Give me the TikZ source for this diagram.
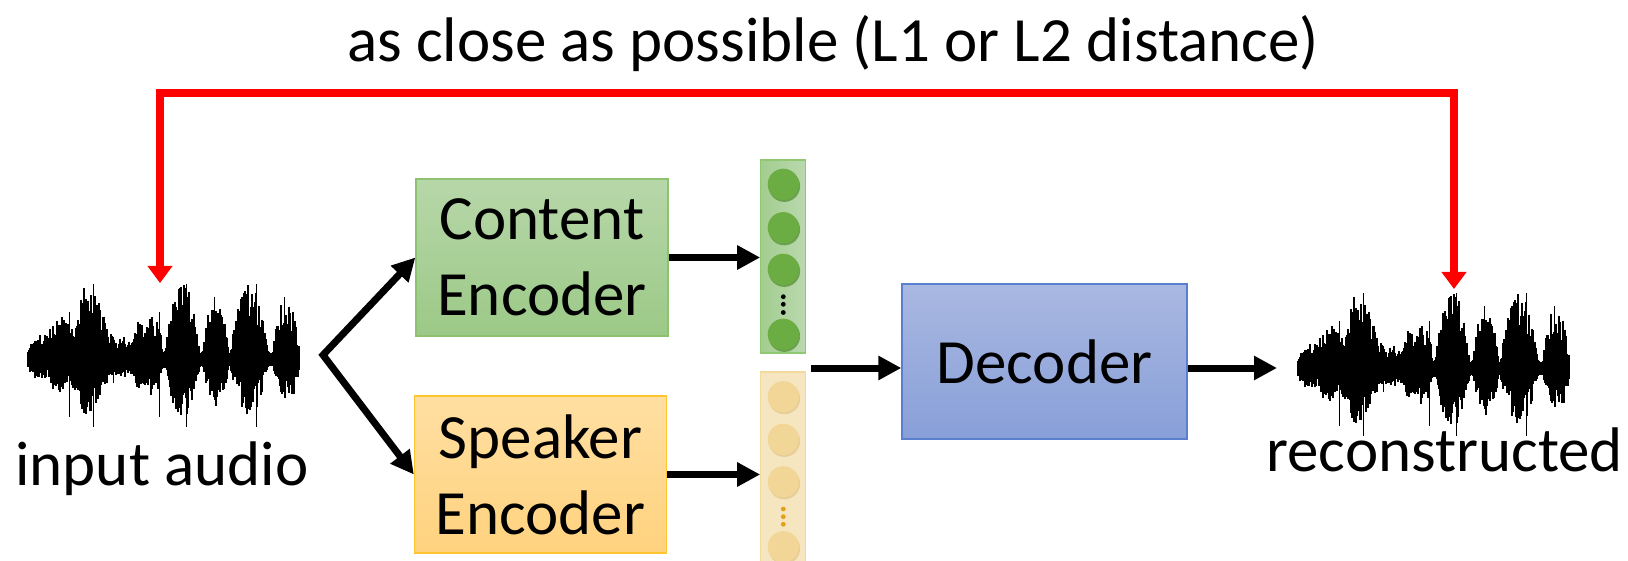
\documentclass[tikz,border=0pt]{standalone}
\usepackage{fontspec}
\setmainfont{Carlito}
\usetikzlibrary{arrows.meta}
\definecolor{cTop}{HTML}{B7D7A9}
\definecolor{cBot}{HTML}{9CC987}
\definecolor{cBrd}{HTML}{8DC370}
\definecolor{sTop}{HTML}{FFDFA2}
\definecolor{sBot}{HTML}{FFD27E}
\definecolor{sBrd}{HTML}{FFC530}
\definecolor{dTop}{HTML}{A9B8E1}
\definecolor{dBot}{HTML}{889FD8}
\definecolor{dBrd}{HTML}{5A7FCF}
\definecolor{gvL}{HTML}{A3CD90}
\definecolor{gvR}{HTML}{BAD9AE}
\definecolor{gvBrd}{HTML}{8FC773}
\definecolor{gCirc}{HTML}{6BAC43}
\definecolor{gShad}{HTML}{4E8A2B}
\definecolor{yvFill}{HTML}{F6E6C0}
\definecolor{yvBrd}{HTML}{F3D99C}
\definecolor{yCirc}{HTML}{F2D698}
\definecolor{yShad}{HTML}{DDBF80}
\definecolor{yDot}{HTML}{E3A11A}
\definecolor{redl}{RGB}{255,0,0}
\begin{document}
\begin{tikzpicture}[x=1pt,y=-1pt,
  declare function={env(\s)=min(1,0.07
    +0.25*max(0,1-((\s-0.037)/0.04)^2)
    +0.5*max(0,1-((\s-0.117)/0.06)^2)
    +0.95*max(0,1-((\s-0.225)/0.07)^2)
    +0.25*max(0,1-((\s-0.30)/0.03)^2)
    +0.22*max(0,1-((\s-0.356)/0.04)^2)
    +0.5*max(0,1-((\s-0.423)/0.04)^2)
    +0.45*max(0,1-((\s-0.47)/0.03)^2)
    +0.95*max(0,1-((\s-0.57)/0.065)^2)
    +0.75*max(0,1-((\s-0.693)/0.05)^2)
    +0.95*max(0,1-((\s-0.816)/0.07)^2)
    +0.75*max(0,1-((\s-0.953)/0.05)^2));},
  txt/.style={font=\fontsize{63pt}{76pt}\selectfont, text=black},
  box/.style={draw, line width=1.3pt, minimum width=252pt, minimum height=157pt,
    align=center, inner sep=0pt, txt},
  arr/.style={line width=7pt, -{Triangle[length=23pt,width=23pt]}},
  arrboth/.style={line width=7pt, line join=miter,
    {Triangle[length=23pt,width=23pt]}-{Triangle[length=23pt,width=23pt]}},
  redarr/.style={line width=8pt, redl, line join=miter,
    {Triangle[length=17pt,width=24pt]}-{Triangle[length=17pt,width=24pt]}},
  wavel/.style={line width=1.25pt, black},
  spike/.style={line width=0.8pt, black},
  vecbox/.style={draw, line width=1.2pt, minimum width=45pt, inner sep=0pt},
  wave/.pic={
    \pgfmathsetseed{4242}
    \foreach \i in {0,...,271}{
      \pgfmathsetmacro\tv{\i/271}
      \pgfmathsetmacro\ev{env(\tv)}
      \pgfmathsetmacro\uv{76*(0.05+\ev*(0.4+0.55*rnd))}
      \pgfmathsetmacro\dv{64*(0.05+\ev*(0.3+0.55*rnd))}
      \draw[wavel] (\i,-\uv) -- (\i,\dv);
    }
    \draw[spike] (41.7,-48) -- (41.7,57);
    \draw[spike] (65,-76) -- (65,67);
    \draw[spike] (85,-23) -- (85,23);
    \draw[spike] (131.7,-48) -- (131.7,57);
    \draw[spike] (158,-76) -- (158,67);
    \draw[spike] (186.7,-63) -- (186.7,30);
    \draw[spike] (228,-76) -- (228,67);
    \draw[spike] (256.7,-63) -- (256.7,30);
  }
]
\useasboundingbox (0,0) rectangle (1628,561);
\clip (0,0) rectangle (1628,561);

% waveforms
\pic (win) at (28,360) {wave};
\pic (wout) at (1298,369) {wave};

% boxes
\node[box, draw=cBrd, top color=cTop, bottom color=cBot] (content) at (542,257.5) {Content\\Encoder};
\node[box, draw=sBrd, top color=sTop, bottom color=sBot] (speaker) at (540.5,474.5) {Speaker\\Encoder};
\node[box, draw=dBrd, top color=dTop, bottom color=dBot, minimum width=285pt, minimum height=155pt] (dec) at (1044.5,361.5) {Decoder};

% vectors
\node[vecbox, draw=gvBrd, left color=gvL, right color=gvR, minimum height=193pt] (gvec) at (783.3,256.5) {};
\node[vecbox, draw=yvBrd, fill=yvFill, minimum height=228pt] (yvec) at (783.3,486) {};
\foreach \cy in {184.3,227.7,269.3,334.3}{
  \fill[gShad, opacity=0.7] (784.3,\cy+1.8) circle (15.8);
  \fill[gCirc] (783.3,\cy) circle (15.6);
}
\foreach \cy in {296.7,304.3,312.5}{\fill[black] (783.3,\cy) circle (2.4);}
\foreach \cy in {396.7,439.3,481.7,546.7}{
  \fill[yShad, opacity=0.6] (784.3,\cy+1.8) circle (15.8);
  \fill[yCirc] (783.3,\cy) circle (15.6);
}
\foreach \cy in {509,516.7,524.3}{\fill[yDot] (783.3,\cy) circle (2.4);}

% labels
\node[txt, anchor=base] (toptxt) at (833,62) {as close as possible (L1 or L2 distance)};
\node[txt, anchor=base] (inlbl) at (162,485) {input audio};
\node[txt, anchor=base] (outlbl) at (1444.7,471.7) {reconstructed};

% black arrows
\coordinate (split) at (323,355);
\draw[arrboth] (content.west) -- (split) -- (speaker.west);
\draw[arr] (content.east) -- (content.east -| gvec.west);
\draw[arr] (speaker.east) -- (speaker.east -| yvec.west);
\coordinate (vj) at (811,368);
\draw[arr] (vj) -- (vj -| dec.west);
\coordinate (outin) at (1277,368);
\draw[arr] (dec.east |- vj) -- (outin);

% red loop
\coordinate (intop) at (160,283);
\coordinate (outtop) at (1454,289);
\coordinate (rl) at (160,93);
\coordinate (rr) at (1454,93);
\draw[redarr] (intop) -- (rl) -- (rr) -- (outtop);
\end{tikzpicture}
\end{document}
